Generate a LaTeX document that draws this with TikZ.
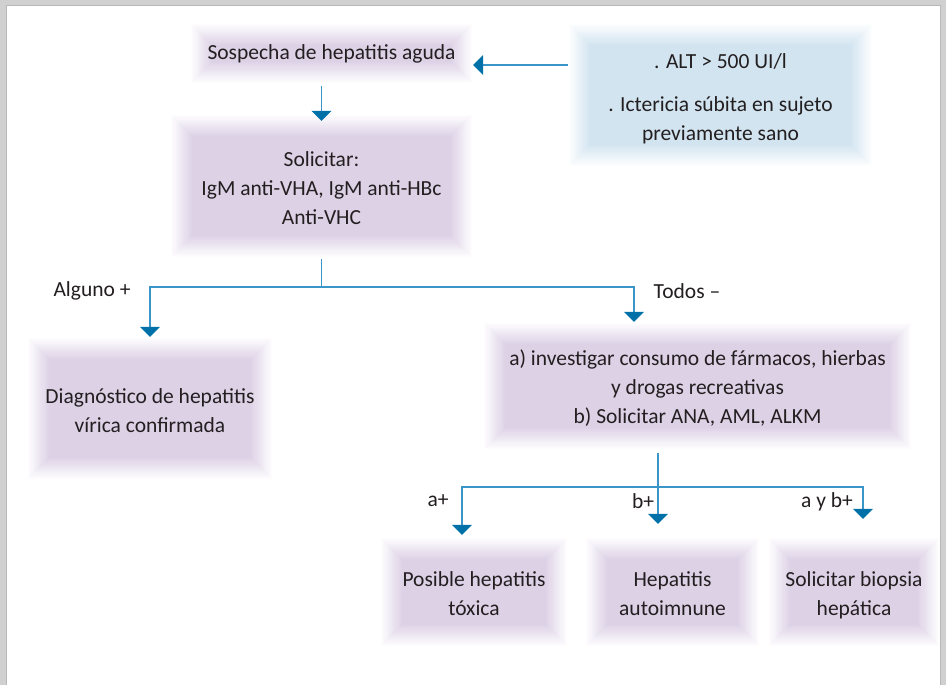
\documentclass[tikz,border=0pt]{standalone}
\usepackage{fontspec}
\setmainfont{Carlito}
\usetikzlibrary{arrows.meta,calc}
\definecolor{purp}{RGB}{221,209,230}
\definecolor{lblue}{RGB}{210,228,240}
\definecolor{lineblue}{RGB}{58,150,200}
\definecolor{tipblue}{RGB}{0,112,168}
\definecolor{txt}{RGB}{35,31,32}
\definecolor{frameg}{RGB}{208,208,208}
\newcommand{\lowr}[1]{\rule{0pt}{#1}}
\begin{document}
\begin{tikzpicture}[x=1pt,y=-1pt,
  glow/.style={inner sep=0pt, align=center, text=txt,
    font=\fontsize{21.5}{29}\selectfont,
    path picture={
      \foreach \i in {0,...,20}{
        \pgfmathsetmacro\pc{\i*100/20}
        \fill[#1!\pc!white] ([shift={(\i*1.1pt,\i*1.1pt)}]path picture bounding box.south west)
          rectangle ([shift={(-\i*1.1pt,-\i*1.1pt)}]path picture bounding box.north east);
      }}},
  glow/.default=purp,
  conn/.style={draw=lineblue, line width=1.6pt},
  arr/.style={conn, -{Triangle[width=20pt,length=10pt,color=tipblue]}},
  lbl/.style={text=txt, font=\fontsize{21.5}{29}\selectfont, inner sep=0pt}
]
\useasboundingbox (0,0) rectangle (946,685);
% frame
\fill[frameg] (0,0) rectangle (946,685);
\fill[white] (6,6) rectangle (940,700);
\draw[black!28, line width=1pt] (6,700) -- (6,6) -- (940,6) -- (940,700);

% boxes
\node[glow, minimum width=283pt, minimum height=61pt] (sosp) at (331.5,53.5) {\raisebox{-4pt}{Sospecha de hepatitis aguda}};
\node[glow=lblue, minimum width=305pt, minimum height=144pt] (crit) at (720.5,95)
  {\lowr{23pt}. ALT > 500 UI/l\\[14pt]. Ictericia súbita en sujeto\\previamente sano};
\node[glow, minimum width=303pt, minimum height=144pt] (solic) at (321.5,186)
  {\lowr{19pt}Solicitar:\\IgM anti-VHA, IgM anti-HBc\\Anti-VHC};
\node[glow, minimum width=246pt, minimum height=143pt] (diag) at (150,408.5)
  {\lowr{19pt}Diagnóstico de hepatitis\\vírica confirmada};
\node[glow, minimum width=429pt, minimum height=128pt] (inv) at (697.5,386)
  {\lowr{19pt}a) investigar consumo de fármacos, hierbas\\y drogas recreativas\\b) Solicitar ANA, AML, ALKM};
\node[glow, minimum width=188pt, minimum height=110pt] (b1) at (474,592) {\lowr{19pt}Posible hepatitis\\tóxica};
\node[glow, minimum width=175pt, minimum height=110pt] (b2) at (672.5,592) {\lowr{19pt}Hepatitis\\autoimnune};
\node[glow, minimum width=172pt, minimum height=110pt] (b3) at (854,592) {\lowr{21pt}Solicitar biopsia\\hepática};

% labels
\node[lbl] (lalg) at (92,291) {Alguno +};
\node[lbl] (ltod) at (687,291) {Todos –};
\node[lbl] (la) at (438,501) {a+};
\node[lbl] (lb) at (643,501) {b+};
\node[lbl] (lab) at (827,502) {a y b+};

% connectors
\draw[arr] ([yshift=30pt]crit.west) -- ([yshift=30pt]crit.west -| sosp.east);
\draw[arr] ([yshift=-2pt]sosp.south -| solic.north) -- ([yshift=-7pt]solic.north);
\coordinate (j1) at ([yshift=-29pt]solic.south);
\draw[conn] ([yshift=-1pt]solic.south) -- (j1);
\draw[arr] (j1) -| (diag.north);
\draw[arr] (j1) -| ([xshift=-63.5pt]inv.north);
\coordinate (j2) at ([xshift=-39.5pt,yshift=-37pt]inv.south);
\draw[conn] ([xshift=-39.5pt,yshift=-3pt]inv.south) -- (j2);
\draw[arr] (j2) -| ([xshift=-12pt,yshift=2pt]b1.north);
\draw[arr] (j2) -- ([xshift=-14.5pt,yshift=13pt]b2.north);
\draw[arr] (j2) -| ([xshift=9pt,yshift=18pt]b3.north);
\end{tikzpicture}
\end{document}
